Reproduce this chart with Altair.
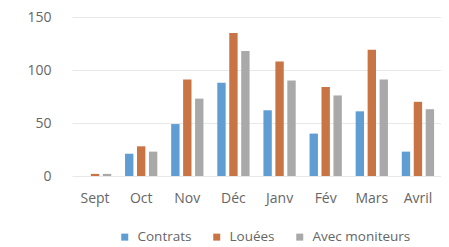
import altair as alt
import pandas as pd

months = ["Sept", "Oct", "Nov", "Déc", "Janv", "Fév", "Mars", "Avril"]
series = ["Contrats", "Louées", "Avec moniteurs"]
contrats = [0, 21, 49, 88, 62, 40, 61, 23]
louees = [2, 28, 91, 135, 108, 84, 119, 70]
avec_moniteurs = [2, 23, 73, 118, 90, 76, 91, 63]
colors = ["#5F9DD2", "#C97445", "#A9A9A9"]

rows = []
for i, m in enumerate(months):
    for s, vals in zip(series, [contrats, louees, avec_moniteurs]):
        rows.append({"mois": m, "serie": s, "valeur": vals[i]})
df = pd.DataFrame(rows)

FONT = "Open Sans"
TXT = "#666666"

chart = alt.Chart(df).mark_bar().encode(
    x=alt.X("mois:N", sort=months, title=None,
            scale=alt.Scale(paddingInner=0.3, paddingOuter=0.15),
            axis=alt.Axis(labelAngle=0, domain=False, ticks=False, labelPadding=15,
                          labelFont=FONT, labelFontSize=14, labelColor=TXT)),
    xOffset=alt.XOffset("serie:N", sort=series, scale=alt.Scale(paddingInner=0.3)),
    y=alt.Y("valeur:Q", title=None,
            scale=alt.Scale(domain=[0, 150], nice=False),
            axis=alt.Axis(values=[0, 50, 100, 150], domain=False, ticks=False,
                          labelPadding=21, gridColor="#e8e8e8",
                          labelFont=FONT, labelFontSize=14, labelColor=TXT)),
    color=alt.Color("serie:N", sort=series,
                    scale=alt.Scale(domain=series, range=colors),
                    legend=alt.Legend(title=None, orient="none", direction="horizontal",
                                      legendX=46, legendY=213, symbolType="square",
                                      symbolSize=49, symbolStrokeWidth=0,
                                      labelOffset=6, columnPadding=18,
                                      labelFont=FONT, labelFontSize=13.5, labelColor=TXT)),
).properties(
    width=369, height=159,
    autosize=alt.AutoSizeParams(type="none"),
    padding={"left": 64, "top": 9, "right": 0, "bottom": 71},
).configure_view(stroke=None)

chart.save("out.html", embed_options={"renderer": "svg", "actions": False})
